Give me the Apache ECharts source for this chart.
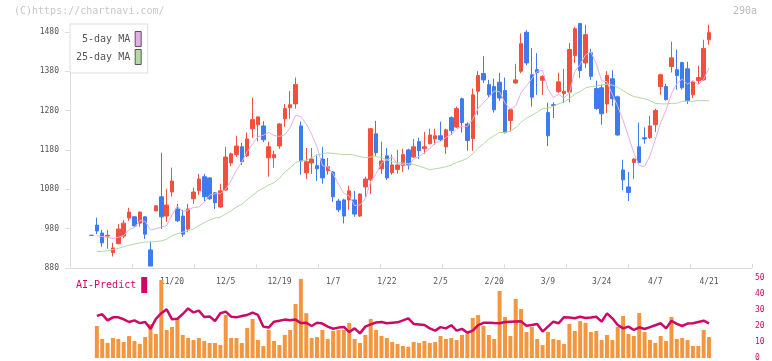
<!DOCTYPE html>
<html><head><meta charset="utf-8">
<script src="https://cdn.jsdelivr.net/npm/echarts@6/dist/echarts.min.js"></script>
<style>html,body{margin:0;padding:0;background:#fff}#c{width:772px;height:361px}</style>
</head><body><div id="c"></div>
<script>
// ---- tick labels (x axis), shown at these session indexes ----
const tickLabels = ['11/20','12/5','12/19','1/7','1/22','2/5','2/20','3/9','3/24','4/7','4/21'];
const tickLabelSession = [15,25,35,45,55,65,75,85,95,105,115];

// ---- OHLC per trading session (116 sessions) ----
const open = [963,989,969,961,919,942,961,1007,1010,994,1010,926,1025,1061,1012,1073,1030,1012,979,1056,1076,1112,1109,1071,1035,1078,1147,1168,1188,1165,
1234,1244,1241,1160,1160,1190,1259,1287,1297,1241,1122,1147,1140,1157,1127,1124,1050,1053,1053,1053,1012,1086,1104,1221,1132,1165,1122,1130,1140,1180,
1162,1201,1183,1196,1208,1216,1188,1262,1238,1310,1246,1209,1329,1374,1346,1341,1352,1331,1255,1350,1380,1479,1371,1384,1357,1275,1295,1328,1323,1327,
1420,1501,1401,1427,1336,1338,1297,1361,1315,1129,1086,1148,1188,1211,1211,1244,1341,1341,1392,1384,1402,1386,1320,1356,1358,1460];
const close = [963,974,944,963,931,979,994,1022,987,1022,966,885,1038,1010,1040,1101,1000,966,1030,1073,1106,1061,1056,1046,1076,1162,1170,1190,1150,1208,
1257,1264,1206,1188,1168,1246,1285,1295,1346,1152,1150,1157,1132,1109,1137,1061,1028,1012,1076,1017,1068,1106,1234,1173,1152,1109,1142,1142,1168,1142,
1188,1178,1188,1218,1216,1206,1231,1229,1285,1250,1204,1320,1369,1358,1320,1282,1312,1224,1282,1358,1450,1401,1314,1377,1367,1216,1293,1353,1329,1435,
1488,1382,1473,1367,1285,1272,1369,1310,1218,1104,1072,1157,1148,1208,1241,1280,1371,1308,1414,1369,1338,1305,1353,1364,1438,1478];
const low = [962,966,934,929,909,940,956,1000,985,985,954,885,1024,979,997,1061,997,959,971,1043,1066,1050,1053,1030,1033,1076,1139,1162,1142,1162,
1211,1202,1200,1112,1135,1183,1239,1259,1285,1117,1106,1119,1101,1094,1117,1048,1022,993,1028,1010,1010,1061,1068,1165,1119,1104,1117,1120,1124,1130,
1160,1157,1170,1194,1193,1203,1170,1218,1236,1224,1178,1178,1269,1350,1312,1275,1305,1222,1227,1348,1375,1395,1290,1320,1320,1190,1261,1325,1299,1301,
1401,1363,1388,1358,1282,1244,1274,1292,1216,1078,1050,1106,1146,1196,1208,1226,1320,1305,1377,1333,1333,1297,1312,1348,1356,1447];
const high = [964,1008,977,977,944,992,1002,1033,1012,1024,1011,947,1039,1173,1081,1135,1043,1028,1043,1084,1119,1119,1110,1073,1094,1188,1173,1216,1198,1224,
1313,1266,1253,1201,1178,1248,1297,1330,1364,1252,1185,1185,1168,1188,1160,1126,1056,1056,1089,1076,1070,1112,1236,1254,1201,1185,1168,1180,1183,1183,
1208,1211,1226,1234,1234,1252,1234,1265,1290,1313,1250,1336,1380,1418,1358,1361,1376,1364,1285,1399,1476,1484,1439,1426,1370,1300,1301,1376,1386,1452,
1493,1503,1498,1437,1356,1346,1380,1382,1318,1155,1124,1159,1249,1237,1267,1285,1374,1348,1455,1435,1404,1404,1355,1394,1460,1498];

// ---- moving averages ----
const ma5 = [null,962,960,958,955.0,958.2,962.2,977.8,982.6,1000.8,998.2,976.4,979.6,984.2,987.8,1014.8,1037.8,1023.4,1027.4,1034.0,1035.0,1047.2,1065.2,1068.4,1069.0,1080.2,1102.0,1128.8,1149.6,1176.0,
1195.0,1213.8,1217.0,1224.6,1216.6,1214.4,1218.6,1236.4,1268.0,1264.8,1245.6,1220.0,1187.4,1140.0,1137.0,1119.2,1093.4,1069.4,1062.8,1038.8,1040.2,1055.8,1100.2,1119.6,1146.6,1154.8,1162.0,1143.6,1142.6,1140.6,
1156.4,1163.6,1172.8,1182.8,1197.6,1201.2,1211.8,1220.0,1233.4,1240.2,1239.8,1257.6,1285.6,1300.2,1314.2,1329.8,1328.2,1299.2,1284.0,1291.6,1325.2,1343.0,1361.0,1380.0,1381.8,1335.0,1313.4,1321.2,1311.6,1325.2,
1379.6,1397.4,1421.4,1429.0,1399.0,1355.8,1353.2,1320.6,1290.8,1254.6,1214.6,1172.2,1139.8,1137.8,1165.2,1206.8,1249.6,1281.6,1322.8,1348.6,1360.2,1347.0,1356.0,1346.0,1359.8,1387.8];
const ma25 = [null,922,922,924,927,930,934,938,941,944,946,946,947,949,953,962,967,971,975,979,988,995,1002,1007,1009.3,1017.3,1025.1,1035.0,1042.4,1053.5,
1064.6,1075.4,1082.8,1090.8,1096.7,1107.9,1123.9,1134.2,1147.6,1152.1,1154.0,1160.3,1167.0,1170.1,1172.7,1170.9,1169.6,1167.8,1169.0,1166.6,1162.9,1160.3,1162.1,1163.0,1160.8,1154.8,1150.0,1147.4,1146.6,1145.6,
1143.2,1139.0,1134.7,1129.6,1132.1,1134.4,1137.3,1141.2,1148.2,1152.8,1158.5,1170.2,1184.4,1195.7,1207.8,1216.4,1224.6,1224.2,1228.6,1236.8,1250.5,1260.8,1267.7,1276.1,1285.1,1286.2,1290.8,1297.4,1301.8,1310.6,
1321.9,1327.9,1337.7,1341.0,1342.4,1345.1,1347.0,1344.7,1339.1,1330.4,1322.0,1315.8,1312.8,1309.8,1305.2,1298.4,1297.2,1296.9,1298.4,1298.5,1303.4,1303.8,1303.8,1305.2,1305.4,1305.0];

// ---- lower panel (0-50 scale) ----
const volume = [null,20,11.9,9.4,12.5,11.9,10,13.75,10.6,8.75,13.1,21.25,15,
48.75,17.5,19.4,24.4,14.4,12.5,11.25,12.5,10.6,9.4,9.4,8.1,26.9,12.5,12.5,9.4,18.75,24.4,11.25,7.5,17.5,10.6,8.1,14.4,17.5,33.75,49.4,28,12.5,13.1,17.5,11.9,16.9,17.5,17.5,21.9,11.9,9.4,14.4,24.4,17.5,13.75,12.5,10,8.75,7.5,7,10,9.4,10.6,9.4,10,13.75,11.9,12.5,
11.25,14.4,15,25,26.9,20,14.4,11.9,41.9,25.6,13.75,36.9,30.6,16.25,19.4,11.9,8.1,16.25,11.9,11.25,8.75,21.25,16.9,23.1,22,16.25,16.9,11.25,14.4,11.25,19.4,26.25,15,13.75,28.1,16.25,11.25,9.4,13.75,10.6,25.6,11.9,12.5,11.25,7.5,7.5,17.5,13.1];
const aiPredict = [null,26.3,27.3,23.5,25.4,25.4,24.2,22.5,23.5,21.8,22.5,18.2,24.5,28,30.4,24.2,24.5,27.5,31,28.5,29.6,25.6,26,23.1,28,29,25.8,25.4,26.2,26.9,
28.3,26.9,19.6,19,22.7,23.3,24,23.6,24,21.8,22,20,22,21.5,19.6,18.3,19,19.4,16.2,18.5,15.4,19.6,21,22.2,22.5,21.7,22,22.3,23.5,24.8,
21.3,21,20.6,18.5,17.1,19.3,18.5,20.5,17.1,18.2,15.8,17.1,20.6,22,22,21.8,21.7,22.5,22.7,22.8,22.9,20.2,20.6,21.2,16.5,19.6,22.7,21.7,25.5,25.3,
24.8,25.8,25,25.3,25.8,22.7,27.9,24.8,20.6,18.5,19.6,17.5,19.2,18.1,19.3,20.5,21.7,18.5,23.3,21.3,20,21.5,21.7,22.5,23.3,21.7];

// ---- build category axis (sessions plus empty room on both sides) ----
const PAD_L = 4, PAD_R = 8;
const n = close.length;
const categories = [];
for (let k = 0; k < PAD_L + n + PAD_R; k++) categories.push(String(k - PAD_L));
const labelAt = {};
tickLabelSession.forEach((s, j) => { labelAt[s + PAD_L] = tickLabels[j]; });
const pad = arr => Array(PAD_L).fill(null).concat(arr, Array(PAD_R).fill(null));
const ohlc = open.map((o, i) => [o, close[i], low[i], high[i]]);
const candleData = pad(ohlc).map(d => d === null ? '-' : d);

const MONO = '"DejaVu Sans Mono", "Liberation Mono", monospace';
const RED = '#f2503f', BLUE = '#3d7bef', PINK = '#e6aee8', GREEN = '#b2da a2'.replace(' ', ''), ORANGE = '#f2973f', CRIMSON = '#cc0a66';
const yTicks = [880,980,1080,1180,1280,1380,1480];

const chart = echarts.init(document.getElementById('c'), null, {renderer: 'canvas'});
chart.setOption({
  animation: false,
  backgroundColor: '#fff',
  grid: [
    {left: 70, right: 20, top: 24, bottom: 93, containLabel: false, outerBoundsMode: 'none'},
    {left: 70, right: 20, top: 278, bottom: 3, containLabel: false, outerBoundsMode: 'none'}
  ],
  xAxis: [
    {type: 'category', gridIndex: 0, data: categories, boundaryGap: false,
     axisLine: {show: false}, axisTick: {show: false}, splitLine: {show: false},
     axisLabel: {interval: (idx) => labelAt[idx] !== undefined, formatter: (v, idx) => labelAt[idx] || '',
       fontFamily: MONO, fontSize: 8, color: '#555', margin: 10}},
    {type: 'value', gridIndex: 0, min: 0, max: 11, interval: 1, position: 'bottom',
     axisLine: {show: true, onZero: false, lineStyle: {color: '#ddd'}},
     axisTick: {show: true, inside: true, length: 4, lineStyle: {color: '#ddd'}},
     axisLabel: {show: false}, splitLine: {show: false}},
    {type: 'category', gridIndex: 1, data: categories, boundaryGap: false, show: false}
  ],
  yAxis: [
    {type: 'value', gridIndex: 0, min: 880, max: 1500, interval: 100, position: 'left',
     axisLine: {show: true, lineStyle: {color: '#ddd'}},
     axisTick: {show: true, length: 5, lineStyle: {color: '#ddd'}, customValues: yTicks},
     axisLabel: {customValues: yTicks, formatter: v => String(v), fontFamily: MONO, fontSize: 8, color: '#555', margin: 11},
     splitLine: {show: false}},
    {type: 'value', gridIndex: 1, min: 0, max: 50, interval: 10, position: 'right',
     axisLine: {show: false}, axisTick: {show: false}, splitLine: {show: false},
     axisLabel: {fontFamily: MONO, fontSize: 8, color: CRIMSON, margin: 3}}
  ],
  legend: [
    {data: ['5-day MA', '25-day MA'], orient: 'vertical', align: 'right', left: 70, top: 24,
     padding: [7, 6, 8, 6], itemGap: 2, itemWidth: 6, itemHeight: 15, icon: 'rect',
     backgroundColor: '#fff', borderColor: '#ddd', borderWidth: 1, selectedMode: false,
     itemStyle: {borderColor: '#555', borderWidth: 1},
     textStyle: {fontFamily: MONO, fontSize: 10, color: '#555'}},
    {data: ['AI-Predict'], orient: 'horizontal', align: 'right', left: 76, top: 277,
     padding: 0, itemWidth: 6, itemHeight: 16, icon: 'rect', selectedMode: false,
     itemStyle: {borderWidth: 0},
     textStyle: {fontFamily: MONO, fontSize: 10, color: CRIMSON}}
  ],
  graphic: [
    {type: 'text', left: 14, top: 6, style: {text: '(C)https://chartnavi.com/', font: '10px ' + MONO, fill: '#c8c8c8'}},
    {type: 'text', right: 15, top: 6, style: {text: '290a', font: '10px ' + MONO, fill: '#bbbbbb'}}
  ],
  series: [
    {name: '25-day MA', type: 'line', xAxisIndex: 0, yAxisIndex: 0, data: pad(ma25), color: GREEN,
     symbol: 'none', lineStyle: {color: GREEN, width: 1}, silent: true},
    {name: '5-day MA', type: 'line', xAxisIndex: 0, yAxisIndex: 0, data: pad(ma5), color: PINK,
     symbol: 'none', lineStyle: {color: PINK, width: 1}, silent: true},
    {name: 'Price', type: 'candlestick', xAxisIndex: 0, yAxisIndex: 0, data: candleData,
     barWidth: 4, clip: false,
     itemStyle: {color: RED, color0: BLUE, borderColor: RED, borderColor0: BLUE, borderWidth: 1}},
    {name: 'Volume', type: 'bar', xAxisIndex: 2, yAxisIndex: 1, data: pad(volume), barWidth: 4,
     itemStyle: {color: ORANGE}, silent: true},
    {name: 'AI-Predict', type: 'line', xAxisIndex: 2, yAxisIndex: 1, data: pad(aiPredict), color: CRIMSON,
     symbol: 'none', lineStyle: {color: CRIMSON, width: 2.5}, silent: true}
  ]
});
</script></body></html>
